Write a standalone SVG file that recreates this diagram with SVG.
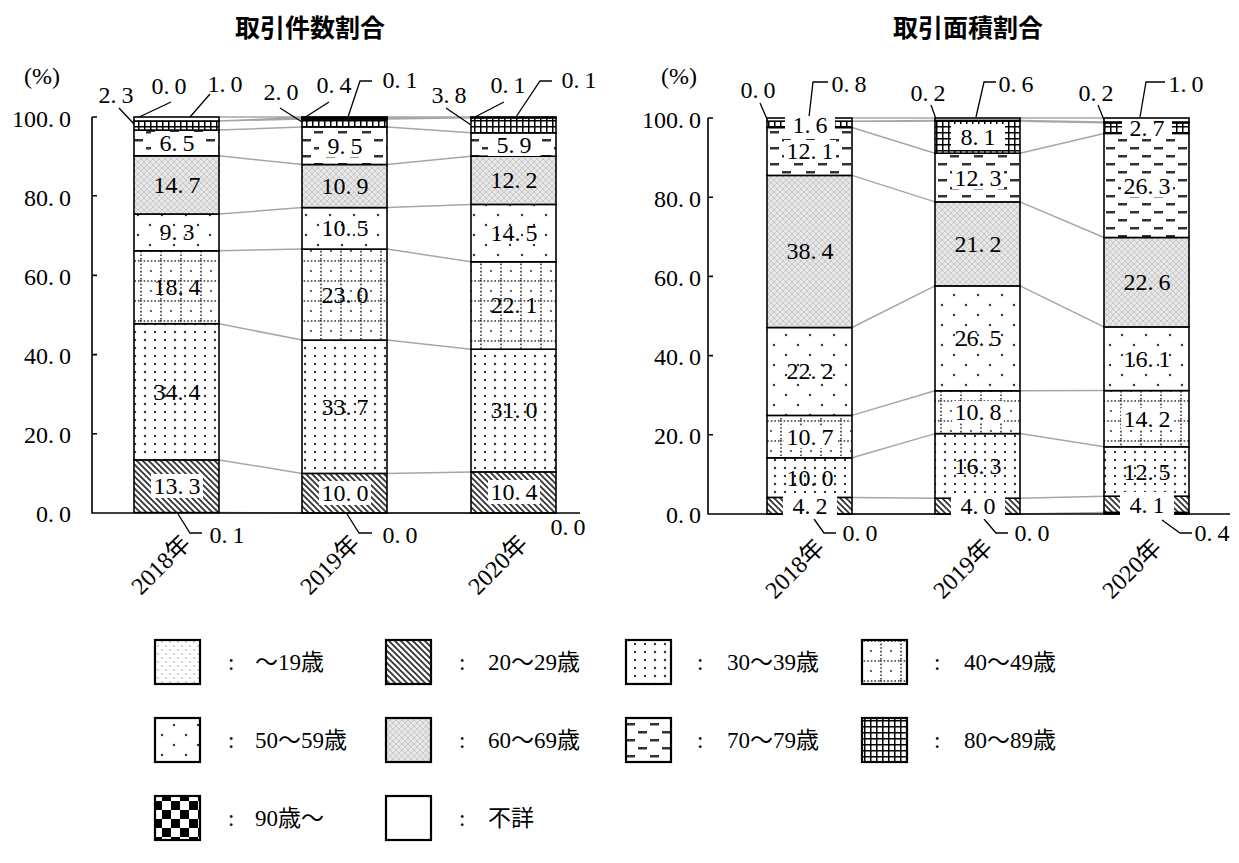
<svg xmlns="http://www.w3.org/2000/svg" width="1239" height="863" viewBox="0 0 1239 863">
<style>
.t{font-family:"Noto Sans CJK JP",sans-serif;font-size:25px;font-weight:bold;text-anchor:middle;fill:#000}
.n{font-family:"Liberation Serif","Noto Sans CJK JP",serif;font-size:24px;fill:#000;dominant-baseline:central}
.c{text-anchor:middle}
.e{text-anchor:end}
.xl{font-family:"Liberation Serif","Noto Sans CJK JP",serif;font-size:24px;text-anchor:end;fill:#000}
.lg{font-family:"Liberation Serif","Noto Sans CJK JP",serif;font-size:23px;fill:#000;dominant-baseline:central}
.seg rect{stroke:#000;stroke-width:1.6}
.box{fill:#fff}
.gray{stroke:#a6a6a6;stroke-width:1.5;fill:none}
.lead{stroke:#000;stroke-width:1.3;fill:none}
.axis{stroke:#000;stroke-width:1.6;fill:none}
.lgbox{stroke:#000;stroke-width:2.2}
</style>
<defs>
<pattern id="p19" width="8" height="8" patternUnits="userSpaceOnUse"><rect width="8" height="8" fill="#fff"/><circle cx="2" cy="2" r="0.9" fill="#bbb"/><circle cx="6" cy="6" r="0.9" fill="#bbb"/></pattern>
<pattern id="p20" width="6" height="6" patternUnits="userSpaceOnUse"><rect width="6" height="6" fill="#fff"/><path d="M-1,-1 L7,7 M-1,5 L1,7 M5,-1 L7,1" stroke="#333" stroke-width="1.8"/></pattern>
<pattern id="p30" width="10" height="8" patternUnits="userSpaceOnUse"><rect width="10" height="8" fill="#fff"/><circle cx="5" cy="4" r="1.2" fill="#333"/></pattern>
<pattern id="p40" width="20" height="20" patternUnits="userSpaceOnUse"><rect width="20" height="20" fill="#fff"/><path d="M0,1 H20 M1,0 V20" stroke="#333" stroke-width="1.6" stroke-dasharray="1.6 2"/><circle cx="11" cy="11" r="1" fill="#333"/></pattern>
<pattern id="p50" width="24" height="20" patternUnits="userSpaceOnUse"><rect width="24" height="20" fill="#fff"/><circle cx="6" cy="5" r="1.2" fill="#333"/><circle cx="18" cy="15" r="1.2" fill="#333"/></pattern>
<pattern id="p60" width="6" height="6" patternUnits="userSpaceOnUse"><rect width="6" height="6" fill="#e6e6e6"/><path d="M0,0 L6,6 M6,0 L0,6" stroke="#c2c2c2" stroke-width="0.8"/></pattern>
<pattern id="p70" width="24" height="16" patternUnits="userSpaceOnUse"><rect width="24" height="16" fill="#fff"/><rect x="2" y="3" width="9" height="2.5" fill="#333"/><rect x="14" y="11" width="9" height="2.5" fill="#333"/></pattern>
<pattern id="p80" width="6" height="6" patternUnits="userSpaceOnUse"><rect width="6" height="6" fill="#fff"/><path d="M0,0.75 H6 M0.75,0 V6" stroke="#000" stroke-width="1.5"/></pattern>
<pattern id="p90" width="18" height="18" patternUnits="userSpaceOnUse"><rect width="18" height="18" fill="#fff"/><rect width="9" height="9" fill="#000"/><rect x="9" y="9" width="9" height="9" fill="#000"/></pattern>
</defs>
<rect width="1239" height="863" fill="#fff"/>

<g id="titles">
<text class="t" x="310" y="37">取引件数割合</text>
<text class="t" x="968" y="37">取引面積割合</text>
</g>

<g id="connectors">
<path class="gray" d="M219,512.6 L302,513 M219,459.9 L302,473.4 M219,323.7 L302,340.1 M219,250.8 L302,249.1 M219,214 L302,207.6 M219,155.8 L302,164.5 M219,130.1 L302,126.9 M219,121 L302,119 M219,121 L302,117.4 M219,117 L302,117"/>
<path class="gray" d="M387,513 L471,513 M387,473.4 L471,471.9 M387,340.1 L471,349.2 M387,249.1 L471,261.8 M387,207.6 L471,204.4 M387,164.5 L471,156.2 M387,126.9 L471,132.8 M387,119 L471,117.8 M387,117.4 L471,117.4 M387,117 L471,117"/>
<path class="gray" d="M852,514 L935,514 M852,497.4 L935,498.2 M852,457.8 L935,433.6 M852,415.4 L935,390.8 M852,327.5 L935,285.9 M852,175.4 L935,201.9 M852,127.5 L935,153.2 M852,121.2 L935,121.2 M852,121.2 L935,120.4 M852,118 L935,118"/>
<path class="gray" d="M1020,514 L1104,512.4 M1020,498.2 L1104,496.2 M1020,433.6 L1104,446.8 M1020,390.8 L1104,390.6 M1020,285.9 L1104,326.9 M1020,201.9 L1104,237.5 M1020,153.2 L1104,133.4 M1020,121.2 L1104,122.8 M1020,120.4 L1104,122 M1020,118 L1104,118"/>
<path class="lead" d="M119,108 L134,124 M171,102 L135,119 M210,94 L190,117"/>
<path class="lead" d="M280,108 L302,122 M329,102 L304,118 M372,81 L360,81 L348,117"/>
<path class="lead" d="M446,108 L471,125 M504,102 L473,118 M552,81 L540,81 L516,117"/>
<path class="lead" d="M178,514 L190,533 L202,533 M347,514 L359,533 L372,533"/>
<path class="lead" d="M760,103 L767,119 M828,82 L813,82 L809,117"/>
<path class="lead" d="M931,105 L936,119 M996,82 L984,82 L976,117"/>
<path class="lead" d="M1098,105 L1104,120 M1165,82 L1146,82 L1140,117"/>
<path class="lead" d="M814,519 L824,533 L836,533 M984,519 L996,533 L1008,533 M1162,520 L1180,533 L1192,533"/>
</g>

<g id="bar-l2018" class="seg">
<rect x="134" y="459.9" width="85" height="52.7" fill="url(#p20)"/>
<rect x="134" y="323.7" width="85" height="136.2" fill="url(#p30)"/>
<rect x="134" y="250.8" width="85" height="72.9" fill="url(#p40)"/>
<rect x="134" y="214" width="85" height="36.8" fill="url(#p50)"/>
<rect x="134" y="155.8" width="85" height="58.2" fill="url(#p60)"/>
<rect x="134" y="130.1" width="85" height="25.7" fill="url(#p70)"/>
<rect x="134" y="121" width="85" height="9.1" fill="url(#p80)"/>
<rect x="134" y="117" width="85" height="4" fill="#fff"/>
</g>
<g id="bar-l2019" class="seg">
<rect x="302" y="473.4" width="85" height="39.6" fill="url(#p20)"/>
<rect x="302" y="340.1" width="85" height="133.3" fill="url(#p30)"/>
<rect x="302" y="249.1" width="85" height="91" fill="url(#p40)"/>
<rect x="302" y="207.6" width="85" height="41.5" fill="url(#p50)"/>
<rect x="302" y="164.5" width="85" height="43.1" fill="url(#p60)"/>
<rect x="302" y="126.9" width="85" height="37.6" fill="url(#p70)"/>
<rect x="302" y="119" width="85" height="7.9" fill="url(#p80)"/>
<rect x="302" y="117.4" width="85" height="1.6" fill="url(#p90)"/>
<rect x="302" y="117" width="85" height="0.4" fill="#fff"/>
</g>
<g id="bar-l2020" class="seg">
<rect x="471" y="471.9" width="85" height="41.1" fill="url(#p20)"/>
<rect x="471" y="349.2" width="85" height="122.7" fill="url(#p30)"/>
<rect x="471" y="261.8" width="85" height="87.4" fill="url(#p40)"/>
<rect x="471" y="204.4" width="85" height="57.4" fill="url(#p50)"/>
<rect x="471" y="156.2" width="85" height="48.2" fill="url(#p60)"/>
<rect x="471" y="132.8" width="85" height="23.4" fill="url(#p70)"/>
<rect x="471" y="117.8" width="85" height="15" fill="url(#p80)"/>
<rect x="471" y="117.4" width="85" height="0.4" fill="url(#p90)"/>
<rect x="471" y="117" width="85" height="0.4" fill="#fff"/>
</g>
<g id="bar-r2018" class="seg">
<rect x="767" y="497.4" width="85" height="16.6" fill="url(#p20)"/>
<rect x="767" y="457.8" width="85" height="39.6" fill="url(#p30)"/>
<rect x="767" y="415.4" width="85" height="42.4" fill="url(#p40)"/>
<rect x="767" y="327.5" width="85" height="87.9" fill="url(#p50)"/>
<rect x="767" y="175.4" width="85" height="152.1" fill="url(#p60)"/>
<rect x="767" y="127.5" width="85" height="47.9" fill="url(#p70)"/>
<rect x="767" y="121.2" width="85" height="6.3" fill="url(#p80)"/>
<rect x="767" y="118" width="85" height="3.2" fill="#fff"/>
</g>
<g id="bar-r2019" class="seg">
<rect x="935" y="498.2" width="85" height="15.8" fill="url(#p20)"/>
<rect x="935" y="433.6" width="85" height="64.6" fill="url(#p30)"/>
<rect x="935" y="390.8" width="85" height="42.8" fill="url(#p40)"/>
<rect x="935" y="285.9" width="85" height="104.9" fill="url(#p50)"/>
<rect x="935" y="201.9" width="85" height="84" fill="url(#p60)"/>
<rect x="935" y="153.2" width="85" height="48.7" fill="url(#p70)"/>
<rect x="935" y="121.2" width="85" height="32" fill="url(#p80)"/>
<rect x="935" y="120.4" width="85" height="0.8" fill="url(#p90)"/>
<rect x="935" y="118" width="85" height="2.4" fill="#fff"/>
</g>
<g id="bar-r2020" class="seg">
<rect x="1104" y="512.4" width="85" height="1.6" fill="url(#p19)"/>
<rect x="1104" y="496.2" width="85" height="16.2" fill="url(#p20)"/>
<rect x="1104" y="446.8" width="85" height="49.4" fill="url(#p30)"/>
<rect x="1104" y="390.6" width="85" height="56.2" fill="url(#p40)"/>
<rect x="1104" y="326.9" width="85" height="63.7" fill="url(#p50)"/>
<rect x="1104" y="237.5" width="85" height="89.4" fill="url(#p60)"/>
<rect x="1104" y="133.4" width="85" height="104.1" fill="url(#p70)"/>
<rect x="1104" y="122.8" width="85" height="10.6" fill="url(#p80)"/>
<rect x="1104" y="122" width="85" height="0.8" fill="url(#p90)"/>
<rect x="1104" y="118" width="85" height="4" fill="#fff"/>
</g>

<g id="axes">
<path class="axis" d="M92,117 V513 H580 M92,117 H97 M92,195.8 H97 M92,275.4 H97 M92,354.6 H97 M92,433.8 H97"/>
<path class="axis" d="M708,118 V514 H1230 M708,118 H713 M708,197.2 H713 M708,276.4 H713 M708,355.6 H713 M708,434.8 H713"/>
<text class="n e" x="71" y="119">100.<tspan dx="5">0</tspan></text>
<text class="n e" x="71" y="198">80.<tspan dx="5">0</tspan></text>
<text class="n e" x="71" y="277">60.<tspan dx="5">0</tspan></text>
<text class="n e" x="71" y="356">40.<tspan dx="5">0</tspan></text>
<text class="n e" x="71" y="435">20.<tspan dx="5">0</tspan></text>
<text class="n e" x="71" y="514">0.<tspan dx="5">0</tspan></text>
<text class="n c" x="42" y="76">(%)</text>
<text class="n e" x="701" y="120">100.<tspan dx="5">0</tspan></text>
<text class="n e" x="701" y="199">80.<tspan dx="5">0</tspan></text>
<text class="n e" x="701" y="278">60.<tspan dx="5">0</tspan></text>
<text class="n e" x="701" y="357">40.<tspan dx="5">0</tspan></text>
<text class="n e" x="701" y="436">20.<tspan dx="5">0</tspan></text>
<text class="n e" x="701" y="515">0.<tspan dx="5">0</tspan></text>
<text class="n c" x="679" y="76">(%)</text>
<text class="xl" transform="translate(192,545) rotate(-45)">2018年</text>
<text class="xl" transform="translate(361,545) rotate(-45)">2019年</text>
<text class="xl" transform="translate(529,545) rotate(-45)">2020年</text>
<text class="xl" transform="translate(826,549) rotate(-45)">2018年</text>
<text class="xl" transform="translate(994,549) rotate(-45)">2019年</text>
<text class="xl" transform="translate(1163,549) rotate(-45)">2020年</text>
</g>

<g id="labels-left">
<rect class="box" x="151" y="132" width="52" height="22"/><text class="n c" x="177" y="143">6.<tspan dx="5">5</tspan></text>
<text class="n c" x="177" y="185">14.<tspan dx="5">7</tspan></text>
<text class="n c" x="177" y="232">9.<tspan dx="5">3</tspan></text>
<text class="n c" x="177" y="287">18.<tspan dx="5">4</tspan></text>
<text class="n c" x="177" y="392">34.<tspan dx="5">4</tspan></text>
<rect class="box" x="151" y="474" width="52" height="24"/><text class="n c" x="177" y="486">13.<tspan dx="5">3</tspan></text>
<rect class="box" x="319" y="135" width="52" height="22"/><text class="n c" x="345" y="146">9.<tspan dx="5">5</tspan></text>
<text class="n c" x="345" y="186">10.<tspan dx="5">9</tspan></text>
<text class="n c" x="345" y="228">10.<tspan dx="5">5</tspan></text>
<text class="n c" x="345" y="295">23.<tspan dx="5">0</tspan></text>
<text class="n c" x="345" y="407">33.<tspan dx="5">7</tspan></text>
<rect class="box" x="319" y="481" width="52" height="24"/><text class="n c" x="345" y="493">10.<tspan dx="5">0</tspan></text>
<rect class="box" x="488" y="134" width="52" height="22"/><text class="n c" x="514" y="145">5.<tspan dx="5">9</tspan></text>
<text class="n c" x="514" y="180">12.<tspan dx="5">2</tspan></text>
<text class="n c" x="514" y="233">14.<tspan dx="5">5</tspan></text>
<text class="n c" x="514" y="305">22.<tspan dx="5">1</tspan></text>
<text class="n c" x="514" y="410">31.<tspan dx="5">0</tspan></text>
<rect class="box" x="488" y="480" width="52" height="24"/><text class="n c" x="514" y="492">10.<tspan dx="5">4</tspan></text>
<text class="n c" x="116" y="95">2.<tspan dx="5">3</tspan></text>
<text class="n c" x="169" y="86">0.<tspan dx="5">0</tspan></text>
<text class="n c" x="225" y="84">1.<tspan dx="5">0</tspan></text>
<text class="n c" x="281" y="92">2.<tspan dx="5">0</tspan></text>
<text class="n c" x="334" y="85">0.<tspan dx="5">4</tspan></text>
<text class="n c" x="400" y="80">0.<tspan dx="5">1</tspan></text>
<text class="n c" x="449" y="95">3.<tspan dx="5">8</tspan></text>
<text class="n c" x="508" y="85">0.<tspan dx="5">1</tspan></text>
<text class="n c" x="579" y="80">0.<tspan dx="5">1</tspan></text>
<text class="n c" x="227" y="535">0.<tspan dx="5">1</tspan></text>
<text class="n c" x="400" y="535">0.<tspan dx="5">0</tspan></text>
<text class="n c" x="568" y="527">0.<tspan dx="5">0</tspan></text>
</g>

<g id="labels-right">
<rect class="box" x="785" y="116" width="50" height="18"/><text class="n c" x="810" y="125">1.<tspan dx="5">6</tspan></text>
<rect class="box" x="784" y="140" width="52" height="22"/><text class="n c" x="810" y="151">12.<tspan dx="5">1</tspan></text>
<text class="n c" x="810" y="251">38.<tspan dx="5">4</tspan></text>
<text class="n c" x="810" y="371">22.<tspan dx="5">2</tspan></text>
<rect class="box" x="784" y="426" width="52" height="22"/><text class="n c" x="810" y="437">10.<tspan dx="5">7</tspan></text>
<text class="n c" x="810" y="478">10.<tspan dx="5">0</tspan></text>
<rect class="box" x="783" y="493" width="54" height="26"/><text class="n c" x="810" y="506">4.<tspan dx="5">2</tspan></text>
<rect class="box" x="951" y="124" width="54" height="26"/><text class="n c" x="978" y="137">8.<tspan dx="5">1</tspan></text>
<rect class="box" x="952" y="167" width="52" height="22"/><text class="n c" x="978" y="178">12.<tspan dx="5">3</tspan></text>
<text class="n c" x="978" y="244">21.<tspan dx="5">2</tspan></text>
<text class="n c" x="978" y="338">26.<tspan dx="5">5</tspan></text>
<rect class="box" x="952" y="401" width="52" height="22"/><text class="n c" x="978" y="412">10.<tspan dx="5">8</tspan></text>
<text class="n c" x="978" y="466">16.<tspan dx="5">3</tspan></text>
<rect class="box" x="951" y="493" width="54" height="26"/><text class="n c" x="978" y="506">4.<tspan dx="5">0</tspan></text>
<rect class="box" x="1122" y="119" width="50" height="18"/><text class="n c" x="1147" y="128">2.<tspan dx="5">7</tspan></text>
<rect class="box" x="1121" y="175" width="52" height="22"/><text class="n c" x="1147" y="186">26.<tspan dx="5">3</tspan></text>
<text class="n c" x="1147" y="282">22.<tspan dx="5">6</tspan></text>
<text class="n c" x="1147" y="359">16.<tspan dx="5">1</tspan></text>
<rect class="box" x="1121" y="408" width="52" height="22"/><text class="n c" x="1147" y="419">14.<tspan dx="5">2</tspan></text>
<text class="n c" x="1147" y="472">12.<tspan dx="5">5</tspan></text>
<rect class="box" x="1120" y="492" width="54" height="26"/><text class="n c" x="1147" y="505">4.<tspan dx="5">1</tspan></text>
<text class="n c" x="758" y="90">0.<tspan dx="5">0</tspan></text>
<text class="n c" x="849" y="84">0.<tspan dx="5">8</tspan></text>
<text class="n c" x="928" y="93">0.<tspan dx="5">2</tspan></text>
<text class="n c" x="1016" y="84">0.<tspan dx="5">6</tspan></text>
<text class="n c" x="1096" y="93">0.<tspan dx="5">2</tspan></text>
<text class="n c" x="1186" y="84">1.<tspan dx="5">0</tspan></text>
<text class="n c" x="860" y="533">0.<tspan dx="5">0</tspan></text>
<text class="n c" x="1032" y="533">0.<tspan dx="5">0</tspan></text>
<text class="n c" x="1212" y="533">0.<tspan dx="5">4</tspan></text>
</g>

<g id="legend">
<rect class="lgbox" x="155" y="640" width="45" height="44" fill="url(#p19)"/>
<text class="lg" x="228" y="662">:</text><text class="lg" x="255" y="662">～19歳</text>
<rect class="lgbox" x="386" y="640" width="45" height="44" fill="url(#p20)"/>
<text class="lg" x="459" y="662">:</text><text class="lg" x="488" y="662">20～29歳</text>
<rect class="lgbox" x="626" y="640" width="45" height="44" fill="url(#p30)"/>
<text class="lg" x="697" y="662">:</text><text class="lg" x="727" y="662">30～39歳</text>
<rect class="lgbox" x="862" y="640" width="45" height="44" fill="url(#p40)"/>
<text class="lg" x="934" y="662">:</text><text class="lg" x="964" y="662">40～49歳</text>
<rect class="lgbox" x="155" y="718" width="45" height="44" fill="url(#p50)"/>
<text class="lg" x="228" y="740">:</text><text class="lg" x="255" y="740">50～59歳</text>
<rect class="lgbox" x="386" y="718" width="45" height="44" fill="url(#p60)"/>
<text class="lg" x="459" y="740">:</text><text class="lg" x="488" y="740">60～69歳</text>
<rect class="lgbox" x="626" y="718" width="45" height="44" fill="url(#p70)"/>
<text class="lg" x="697" y="740">:</text><text class="lg" x="727" y="740">70～79歳</text>
<rect class="lgbox" x="862" y="718" width="45" height="44" fill="url(#p80)"/>
<text class="lg" x="934" y="740">:</text><text class="lg" x="964" y="740">80～89歳</text>
<rect class="lgbox" x="155" y="796" width="45" height="44" fill="url(#p90)"/>
<text class="lg" x="228" y="818">:</text><text class="lg" x="255" y="818">90歳～</text>
<rect class="lgbox" x="386" y="796" width="45" height="44" fill="#fff"/>
<text class="lg" x="459" y="818">:</text><text class="lg" x="488" y="818">不詳</text>
</g>
</svg>
